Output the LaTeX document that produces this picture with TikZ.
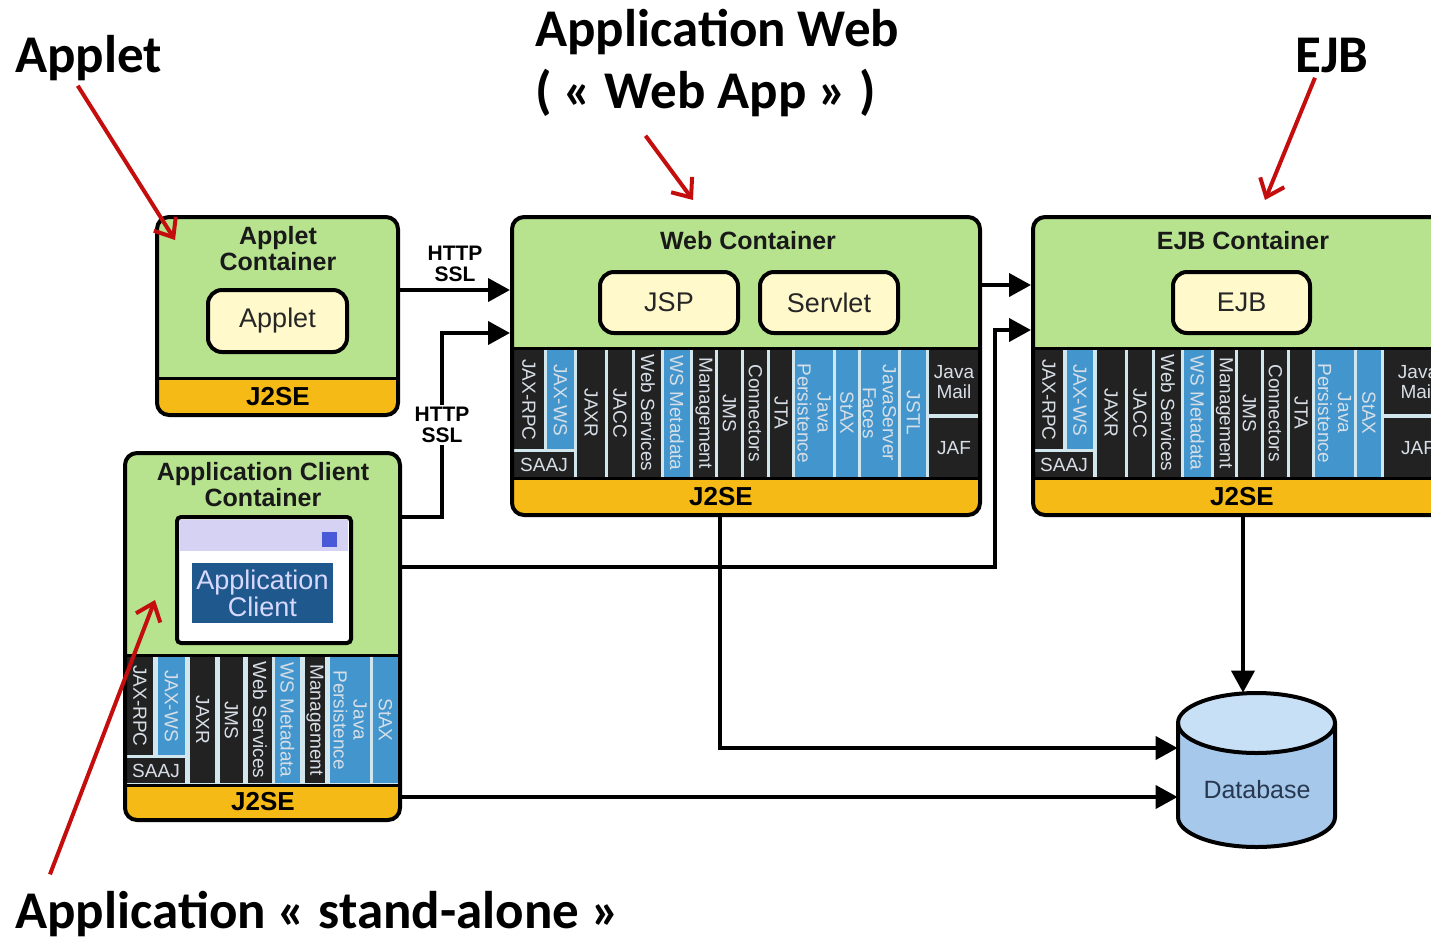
\documentclass[tikz,border=0pt]{standalone}
\usepackage{fontspec}
\setmainfont{Liberation Sans}
\newfontfamily\calibfont{Carlito}
\usetikzlibrary{arrows.meta,fit}

\definecolor{cgreen}{RGB}{183,226,142}
\definecolor{cyellow}{RGB}{246,186,22}
\definecolor{cbox}{RGB}{255,249,204}
\definecolor{cdark}{RGB}{34,34,34}
\definecolor{cblue}{RGB}{66,150,205}
\definecolor{csep}{RGB}{210,230,238}
\definecolor{ctext}{RGB}{215,222,230}
\definecolor{cred}{RGB}{196,14,14}
\definecolor{dbtop}{RGB}{200,224,246}
\definecolor{dbbody}{RGB}{166,200,234}
\definecolor{dbtext}{RGB}{40,56,80}
\definecolor{winbar}{RGB}{214,210,244}
\definecolor{winsq}{RGB}{72,90,216}
\definecolor{appblue}{RGB}{30,88,140}

\tikzset{
  ctrbox/.style={draw,line width=2pt,rounded corners=6pt,inner sep=0pt},
  ctrtitle/.style={font=\fontsize{12.5}{13}\selectfont\bfseries,align=center,text=black!90,inner sep=0pt},
  compbox/.style={draw,line width=2pt,rounded corners=7pt,fill=cbox,inner sep=0pt,text=black!85,font=\fontsize{13.5}{15}\selectfont},
  j2setxt/.style={font=\fontsize{13}{14}\selectfont\bfseries,inner sep=0pt},
  apitxt/.style={font=\fontsize{9.5}{10}\selectfont,text=ctext,align=center,inner sep=0pt},
  proto/.style={font=\fontsize{10.5}{10.5}\selectfont\bfseries,align=center,inner sep=1pt},
  conn/.style={line width=2pt,-{Triangle[length=11pt,width=11.5pt]}},
  bigtitle/.style={font=\calibfont\bfseries\fontsize{26.5}{31.8}\selectfont,inner sep=0pt},
  annot/.style={draw=cred,line width=2pt,-{Straight Barb[length=8pt,width=13pt]}}
}

\begin{document}
\begin{tikzpicture}[x=0.5pt,y=-0.5pt]
\useasboundingbox (0,0) rectangle (1431,944);
\clip (0,0) rectangle (1431,944);

\node[bigtitle,anchor=base west] (applett) at (15,72) {Applet};
\node[bigtitle,anchor=base west] (webt1) at (535,46) {Application Web};
\node[bigtitle,anchor=base west] (webt2) at (535,108) {( « Web App » )};
\node[bigtitle,anchor=base west] (ejbt) at (1295,72) {EJB};
\node[bigtitle,anchor=base west] (standt) at (15,928) {Application « stand-alone »};

% applet container
\begin{scope}
  \clip[rounded corners=6pt] (157,217) rectangle (398,415);
  \fill[cgreen] (157,217) rectangle (398,378);
  \fill[cyellow] (157,378) rectangle (398,415);
  \draw[line width=1.5pt] (157,378) -- (398,378);
\end{scope}
\node[ctrbox,fit={(157,217) (398,415)}] (appletc) {};
\node[ctrtitle] (appletct) at (278,249) {Applet\\Container};
\node[compbox,minimum width=69.5pt,minimum height=31pt] (applet) at (277.5,321) {Applet};
\node[j2setxt] (appletj) at (278,397) {J2SE};

% web container
\begin{scope}
  \clip[rounded corners=6pt] (512,217) rectangle (980,515);
  \fill[cgreen] (512,217) rectangle (980,348);
  \fill[csep] (512,348) rectangle (980,478);
  \fill[cyellow] (512,478) rectangle (980,515);
  \fill[cdark] (514,350) rectangle (544,449);
  \fill[cblue] (547,350) rectangle (574,449);
  \fill[cdark] (514,452) rectangle (574,477);
  \fill[cdark] (929,350) rectangle (980,414);
  \fill[cdark] (929,418) rectangle (980,477);
  \foreach \xl/\xr/\c/\t [count=\i] in {577/605/cdark/JAXR, 608/632/cdark/JACC, 635/661/cdark/Web Services,
      664/690/cblue/WS Metadata, 693/715/cdark/Management, 718/741/cdark/JMS, 744/767/cdark/Connectors,
      770/792/cdark/JTA, 795/833/cblue/{Java\\Persistence}, 836/858/cblue/StAX,
      861/898/cblue/{JavaServer\\Faces}, 901/926/cblue/JSTL}{
    \fill[\c] (\xl,350) rectangle (\xr,477);
    \node[apitxt,rotate=-90] (wapi\i) at ({(\xl+\xr)/2},413) {\t};
  }
  \draw[line width=1.5pt] (512,348) -- (980,348) (512,478) -- (980,478);
\end{scope}
\node[apitxt,rotate=-90] (wrpc) at (529,400) {JAX-RPC};
\node[apitxt,rotate=-90] (wws) at (560.5,400) {JAX-WS};
\node[apitxt] (wsaaj) at (544,465) {SAAJ};
\node[apitxt] (wmail) at (954,382) {Java\\Mail};
\node[apitxt] (wjaf) at (954,448) {JAF};
\node[ctrbox,fit={(512,217) (980,515)}] (webc) {};
\node[ctrtitle] (webct) at (748,241) {Web Container};
\node[compbox,minimum width=69pt,minimum height=30.5pt] (jsp) at (669,302.5) {JSP};
\node[compbox,minimum width=69pt,minimum height=30.5pt] (servlet) at (829,302.5) {Servlet};
\node[j2setxt] (webj) at (721,497) {J2SE};

% ejb container
\begin{scope}
  \clip[rounded corners=6pt] (1033,217) rectangle (1453,515);
  \fill[cgreen] (1033,217) rectangle (1453,348);
  \fill[csep] (1033,348) rectangle (1453,478);
  \fill[cyellow] (1033,478) rectangle (1453,515);
  \fill[cdark] (1035,350) rectangle (1063,449);
  \fill[cblue] (1067,350) rectangle (1093,449);
  \fill[cdark] (1035,452) rectangle (1093,477);
  \fill[cdark] (1384,350) rectangle (1453,414);
  \fill[cdark] (1384,418) rectangle (1453,477);
  \foreach \xl/\xr/\c/\t [count=\i] in {1097/1125/cdark/JAXR, 1128/1152/cdark/JACC, 1155/1181/cdark/Web Services,
      1184/1211/cblue/WS Metadata, 1214/1235/cdark/Management, 1238/1261/cdark/JMS, 1264/1287/cdark/Connectors,
      1290/1312/cdark/JTA, 1315/1354/cblue/{Java\\Persistence}, 1357/1381/cblue/StAX}{
    \fill[\c] (\xl,350) rectangle (\xr,477);
    \node[apitxt,rotate=-90] (eapi\i) at ({(\xl+\xr)/2},413) {\t};
  }
  \draw[line width=1.5pt] (1033,348) -- (1453,348) (1033,478) -- (1453,478);
\end{scope}
\node[apitxt,rotate=-90] (erpc) at (1049,400) {JAX-RPC};
\node[apitxt,rotate=-90] (ews) at (1080,400) {JAX-WS};
\node[apitxt] (esaaj) at (1064,465) {SAAJ};
\node[apitxt] (email) at (1418,382) {Java\\Mail};
\node[apitxt] (ejaf) at (1418,448) {JAF};
\node[ctrbox,fit={(1033,217) (1453,515)}] (ejbc) {};
\node[ctrtitle] (ejbct) at (1243,241) {EJB Container};
\node[compbox,minimum width=68.5pt,minimum height=30.5pt] (ejb) at (1241.5,302.5) {EJB};
\node[j2setxt] (ejbj) at (1242,497) {J2SE};

% application client container
\begin{scope}
  \clip[rounded corners=6pt] (125,453) rectangle (400,820);
  \fill[cgreen] (125,453) rectangle (400,655);
  \fill[csep] (125,655) rectangle (400,785);
  \fill[cyellow] (125,785) rectangle (400,820);
  \fill[cdark] (127,657) rectangle (153,755);
  \fill[cblue] (158,657) rectangle (185,755);
  \fill[cdark] (127,758) rectangle (185,783);
  \foreach \xl/\xr/\c/\t [count=\i] in {190/215/cdark/JAXR, 220/243/cdark/JMS, 248/272/cdark/Web Services,
      275/300/cblue/WS Metadata, 305/325/cdark/Management, 330/370/cblue/{Java\\Persistence}, 373/398/cblue/StAX}{
    \fill[\c] (\xl,657) rectangle (\xr,783);
    \node[apitxt,rotate=-90] (capi\i) at ({(\xl+\xr)/2},720) {\t};
  }
  \draw[line width=1.5pt] (125,655) -- (400,655) (125,785) -- (400,785);
\end{scope}
\node[apitxt,rotate=-90] (crpc) at (140,706) {JAX-RPC};
\node[apitxt,rotate=-90] (cws) at (171.5,706) {JAX-WS};
\node[apitxt] (csaaj) at (156,771) {SAAJ};
\node[ctrbox,fit={(125,453) (400,820)}] (appc) {};
\node[ctrtitle] (appct) at (263,485) {Application Client\\Container};
\node[draw,line width=2pt,fill=white,rounded corners=2pt,inner sep=0pt,fit={(177,517) (351,643)}] (appwin) {};
\fill[winbar] (180,520) rectangle (348,551);
\fill[winsq] (322,532) rectangle (337,547);
\node[fill=appblue,text=white!85!blue,minimum width=70.5pt,minimum height=30pt,inner sep=0pt,align=center,
  font=\fontsize{13.5}{13.5}\selectfont] (appcl) at (262.5,593) {Application\\Client};
\node[j2setxt] (appcj) at (263,802) {J2SE};

% database
\fill[dbbody] (1178,723) rectangle (1335,817);
\fill[dbbody] (1256.5,817) ellipse [x radius=78.5,y radius=30];
\fill[dbtop] (1256.5,723) ellipse [x radius=78.5,y radius=30];
\draw[line width=2pt] (1256.5,723) ellipse [x radius=78.5,y radius=30];
\draw[line width=2pt] (1178,723) -- (1178,817) arc[start angle=180,end angle=0,x radius=78.5,y radius=30] -- (1335,723);
\node[inner sep=0pt,fit={(1178,693) (1335,847)}] (db) {};
\node[font=\fontsize{12.5}{13}\selectfont,text=dbtext] (dblbl) at (1257,790) {Database};
\coordinate (dbin) at ([yshift=-13.5pt]db.west);

% connectors
\draw[conn] ([yshift=13pt]appletc.east) -- node[proto,above=2pt] (http1) {HTTP\\SSL} ([yshift=13pt]appletc.east -| webc.west);
\draw[conn] ([yshift=59.75pt]appc.east) -- ++(20pt,0) |- node[pos=0.25,proto,fill=white] (http2) {HTTP\\SSL} ([yshift=16.5pt]webc.west);
\draw[conn] ([yshift=40.5pt]webc.east) -- ([yshift=40.5pt]ejbc.west);
\draw[conn] ([yshift=34.75pt]appc.east) -| ([xshift=6.5pt,yshift=18pt]webc.east) -- ([yshift=18pt]ejbc.west);
\draw[conn] ([xshift=-13pt]webc.south) |- ([yshift=11pt]db.west);
\draw[conn] (appc.east |- dbin) -- (dbin);
\draw[conn] (ejbc.south) -- (ejbc.south |- db.north);

% red pointers
\coordinate (applettip) at (175,240);
\coordinate (webtip) at (693,200);
\coordinate (ejbtip) at (1265,200);
\coordinate (standtip) at (155,600);
\draw[annot] ([xshift=-5.5pt,yshift=-2.5pt]applett.south) -- (applettip);
\draw[annot] ([xshift=-30pt,yshift=-9.5pt]webt2.south) -- (webtip);
\draw[annot] ([xshift=-8.5pt,yshift=-2.5pt]ejbt.south) -- (ejbtip);
\draw[annot] ([xshift=17.5pt,yshift=8pt]standt.north west) -- (standtip);
\end{tikzpicture}
\end{document}
